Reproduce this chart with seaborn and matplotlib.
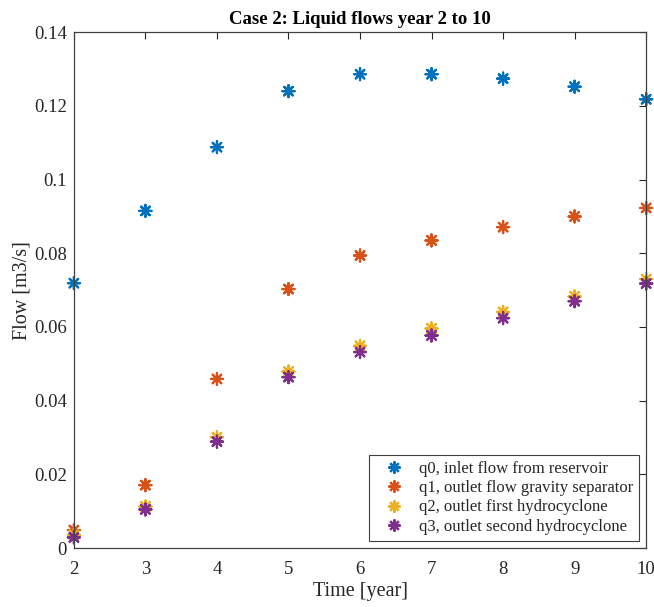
import numpy as np
import pandas as pd
import matplotlib
matplotlib.use("Agg")
import matplotlib.pyplot as plt
import seaborn as sns

years = [2, 3, 4, 5, 6, 7, 8, 9, 10]
q0 = [0.0719, 0.0915, 0.1088, 0.1240, 0.1286, 0.1286, 0.1274, 0.1252, 0.1218]
q1 = [0.0049, 0.0171, 0.0459, 0.0703, 0.0794, 0.0835, 0.0871, 0.0900, 0.0923]
q2 = [0.0036, 0.0113, 0.0301, 0.0479, 0.0549, 0.0596, 0.0641, 0.0683, 0.0730]
q3 = [0.0029, 0.0105, 0.0289, 0.0464, 0.0532, 0.0577, 0.0624, 0.0670, 0.0718]
series_names = ["q0, inlet flow from reservoir",
                "q1, outlet flow gravity separator",
                "q2, outlet first hydrocyclone",
                "q3, outlet second hydrocyclone"]
ytick_vals = [0, 0.02, 0.04, 0.06, 0.08, 0.1, 0.12, 0.14]
ytick_labels = ["0", "0.02", "0.04", "0.06", "0.08", "0.1", "0.12", "0.14"]
xtick_vals = [2, 3, 4, 5, 6, 7, 8, 9, 10]

colors = ["#0072BD", "#D95319", "#EDB120", "#7E2F8E"]

rows = []
for name, vals in zip(series_names, [q0, q1, q2, q3]):
    for t, v in zip(years, vals):
        rows.append({"Time": t, "Flow": v, "Series": name})
df = pd.DataFrame(rows)

sns.set_theme(style="white")
plt.rcParams['font.family'] = ['Liberation Serif', 'DejaVu Serif']

fig = plt.figure(figsize=(6.54, 6.07), dpi=100)
ax = fig.add_axes([0.113, 0.097, 0.875, 0.850])

star = (8, 2, 0)
sns.scatterplot(data=df, x="Time", y="Flow", hue="Series",
                palette=colors, hue_order=series_names,
                marker=star, s=75, linewidth=1.6, ax=ax, legend=True)
for coll in ax.collections:
    coll.set_clip_on(False)

ax.set_xlim(2, 10)
ax.set_ylim(0, 0.14)
ax.set_xticks(xtick_vals)
ax.set_xticklabels([str(v) for v in xtick_vals])
ax.set_yticks(ytick_vals)
ax.set_yticklabels(ytick_labels)
ax.tick_params(axis="both", direction="in", length=5, width=0.8, top=True, right=True,
               labelsize=13.5, colors="#262626")
ax.tick_params(axis="x", pad=9)
ax.tick_params(axis="y", pad=5)
for sp in ax.spines.values():
    sp.set_color("#404040")
    sp.set_linewidth(0.9)

ax.set_xlabel("Time [year]", fontsize=14.5, color="#262626", labelpad=3)
ax.set_ylabel("Flow [m3/s]", fontsize=14.5, color="#262626", labelpad=2)
ax.set_title("Case 2: Liquid flows year 2 to 10", fontsize=13.5,
             fontweight="bold", color="black", pad=6)

leg = ax.legend(loc="lower right", fontsize=12, frameon=True, fancybox=False,
                edgecolor="#404040", framealpha=1, borderaxespad=0.45,
                handletextpad=0.3, borderpad=0.35, labelspacing=0.2,
                handlelength=2.3, markerscale=1.0)
leg.get_frame().set_linewidth(0.8)

fig.savefig("out.png", dpi=100)
